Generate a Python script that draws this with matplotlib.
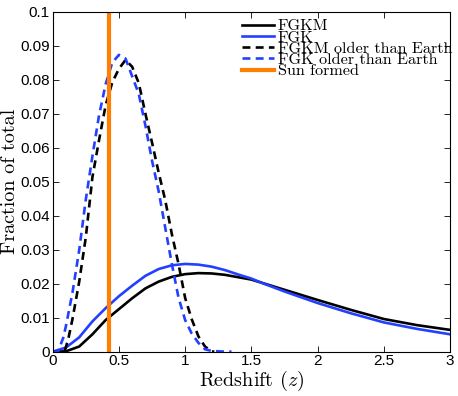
import matplotlib
matplotlib.use('Agg')
import matplotlib.pyplot as plt
from matplotlib.ticker import FormatStrFormatter, MultipleLocator

# redshift grids
z_all = [0, 0.1, 0.2, 0.3, 0.4, 0.5, 0.6, 0.7, 0.8, 0.9, 1.0, 1.1, 1.2, 1.3,
         1.4, 1.5, 1.6, 1.75, 2.0, 2.25, 2.5, 2.75, 3.0]
fgkm = [0, 0.0001, 0.0015, 0.0051, 0.0093, 0.0125, 0.0157, 0.0186, 0.0206,
        0.0220, 0.0228, 0.0231, 0.0230, 0.0226, 0.0219, 0.0212, 0.0200,
        0.0182, 0.0152, 0.0123, 0.0096, 0.0078, 0.0064]
fgk = [0, 0.0012, 0.0042, 0.0089, 0.0128, 0.0163, 0.0194, 0.0223, 0.0243,
       0.0254, 0.0258, 0.0256, 0.0250, 0.0240, 0.0227, 0.0215, 0.0199,
       0.0177, 0.0143, 0.0113, 0.0086, 0.0067, 0.0051]

z_old_fgkm = [0, 0.09, 0.12, 0.15, 0.2, 0.25, 0.3, 0.35, 0.4, 0.45, 0.5, 0.55,
              0.6, 0.65, 0.7, 0.75, 0.8, 0.85, 0.9, 0.95, 1.0, 1.05, 1.1,
              1.15, 1.2, 1.22]
fgkm_old = [0, 0, 0.0041, 0.0097, 0.0205, 0.0336, 0.0513, 0.0622, 0.0725,
            0.0792, 0.0832, 0.0858, 0.0838, 0.0790, 0.0700, 0.0615, 0.0527,
            0.0445, 0.0345, 0.0258, 0.0158, 0.0095, 0.0045, 0.0015, 0.0001, 0]

z_old_fgk = [0, 0.04, 0.08, 0.1, 0.15, 0.2, 0.25, 0.3, 0.35, 0.4, 0.45, 0.5,
             0.55, 0.6, 0.65, 0.7, 0.75, 0.8, 0.85, 0.9, 0.95, 1.0, 1.05,
             1.1, 1.15, 1.2, 1.3, 1.35]
fgk_old = [0, 0, 0.0041, 0.0075, 0.0175, 0.0298, 0.0447, 0.0575, 0.0695,
           0.0787, 0.0850, 0.0873, 0.0862, 0.0810, 0.0758, 0.0665, 0.0562,
           0.0472, 0.0364, 0.0257, 0.0159, 0.0093, 0.0053, 0.0026, 0.0007,
           0.0002, 0, 0]

z_sun = 0.422

plt.rcParams['mathtext.fontset'] = 'cm'
blue = '#2440ff'

fig = plt.figure(figsize=(4.58, 3.96), dpi=100)
ax = fig.add_axes([0.115, 0.112, 0.8677, 0.8585])

ax.plot(z_all, fgkm, color='k', lw=1.9, label='FGKM')
ax.plot(z_all, fgk, color=blue, lw=1.9, label='FGK')
ax.plot(z_old_fgkm, fgkm_old, color='k', lw=1.9, ls=(0, (3, 2)),
        label='FGKM older than Earth')
ax.plot(z_old_fgk, fgk_old, color=blue, lw=1.9, ls=(0, (3, 2)),
        label='FGK older than Earth')
ax.axvline(z_sun, color='#ff8000', lw=3, label='Sun formed')

ax.set_xlim(0, 3)
ax.set_ylim(0, 0.1)
ax.xaxis.set_major_locator(MultipleLocator(0.5))
ax.yaxis.set_major_locator(MultipleLocator(0.01))
ax.xaxis.set_major_formatter(FormatStrFormatter('%g'))
ax.yaxis.set_major_formatter(FormatStrFormatter('%g'))
ax.tick_params(direction='in', top=True, right=True, length=4, width=0.6,
               labelsize=11, pad=2)
for lab in ax.get_xticklabels() + ax.get_yticklabels():
    lab.set_fontfamily('Liberation Sans')
for s in ax.spines.values():
    s.set_linewidth(0.8)

ax.set_xlabel('Redshift ($z$)', fontfamily='cmr10', fontsize=14.5, labelpad=0)
ax.set_ylabel('Fraction of total', fontfamily='cmr10', fontsize=14.5, labelpad=1)

leg = ax.legend(loc='upper left', bbox_to_anchor=(0.47, 0.986), frameon=False,
                prop={'family': 'cmr10', 'size': 11.7}, handlelength=2.0,
                handletextpad=0.2, labelspacing=-0.19, borderpad=0.15,
                borderaxespad=0)

fig.savefig('out.png', dpi=100)
